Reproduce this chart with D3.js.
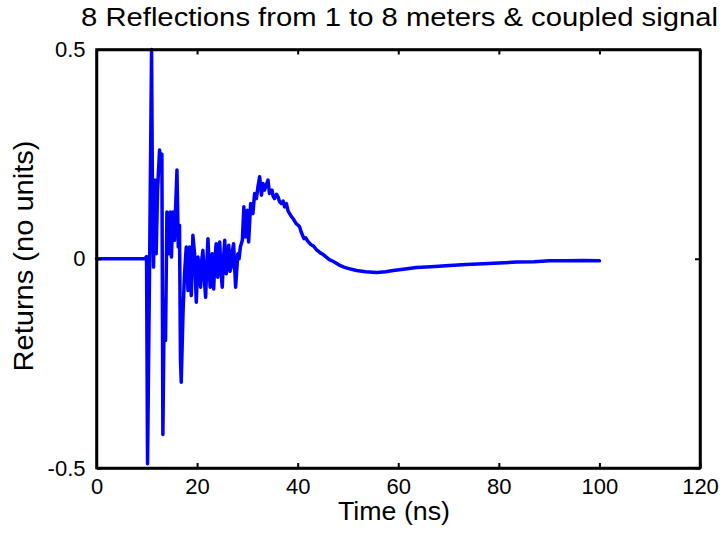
<!DOCTYPE html>
<html>
<head>
<meta charset="utf-8">
<script src="https://cdn.jsdelivr.net/npm/d3@7"></script>
<style>
  html, body { margin: 0; padding: 0; background: #fff; }
  svg { display: block; font-family: "Liberation Sans", Arial, sans-serif; }
</style>
</head>
<body>
<svg id="chart" width="724" height="538"></svg>
<script>
// ---- data ----
const titleText = "8 Reflections from 1 to 8 meters & coupled signal";
const xLabelText = "Time (ns)";
const yLabelText = "Returns (no units)";
const xTicks = [0, 20, 40, 60, 80, 100, 120];
const yTicks = [-0.5, 0, 0.5];
const yTickLabels = ["-0.5", "0", "0.5"];

const timeNs = [
  0, 2, 4, 6, 8, 9.6, 9.95, 10.15, 10.55, 10.95, 11.15, 11.34, 11.6, 11.87, 12.14, 12.54, 12.8, 13.0,
  13.2, 13.47, 13.73, 14.0, 14.4, 14.66, 14.9, 15.2, 15.5, 16.0, 16.26, 16.5, 16.7, 16.85,
  17.2, 17.5, 17.85, 18.2, 18.5, 18.85, 19.17, 19.5, 19.84, 20.17, 20.45, 20.7, 20.95, 21.16, 21.45, 21.7, 21.95, 22.16,
  22.4, 22.6, 22.8, 23.0, 23.3, 23.55, 23.8, 24.1, 24.3, 24.5, 24.75, 25.0, 25.25, 25.5, 25.8, 26.05, 26.3, 26.55, 26.8, 27.05, 27.26, 27.66, 28.1, 28.35, 28.6,
  29.0, 29.3, 29.6, 30.0, 30.25, 30.65, 31.1, 31.44, 31.8, 32.1, 32.44, 32.8, 33.1, 33.4, 33.8, 34.1,
  34.4, 34.9, 35.1, 35.4, 35.8, 36.1, 36.4, 36.75, 37.1, 37.4, 37.75, 38.1, 38.4, 38.8, 39.1, 39.4, 39.7, 40.1, 40.4, 40.7, 41.25, 41.6, 42.0,
  42.6, 43.2, 43.7, 44.1, 44.5, 45.1, 45.7, 46.3, 47.0, 47.6, 48.4, 49.2, 50.0, 51.7, 53.5, 55.7, 57.5, 59.0, 61.0, 63.6,
  66.5, 70.2, 73.5, 76.9, 80.0, 83.5, 87.0, 90.1, 93.5, 96.8, 100
];
const returns = [
  0, 0, 0, 0, 0, 0, 0.005, -0.49, -0.02, 0.5, 0.1, -0.02, 0.188, 0.012, 0.164, 0.26, 0.22, 0.25,
  -0.42, -0.1, -0.195, 0.112, 0.012, 0.112, 0.004, 0.112, 0.044, 0.212, 0.028, 0.08, -0.243, -0.295,
  -0.131, -0.036, 0.028, -0.076, 0.028, -0.088, 0.056, 0.012, -0.104, 0.004, -0.03, -0.068, 0.0, 0.02, -0.05, -0.092, -0.01, 0.048,
  -0.02, -0.068, -0.01, 0.012, -0.072, 0.0, 0.036, -0.044, 0.01, 0.04, -0.03, -0.068, 0.0, 0.044, -0.036, 0.01, 0.032, -0.03, -0.02, 0.02, 0.036, -0.068, 0.012, 0.0, 0.028,
  0.044, 0.124, 0.052, 0.116, 0.04, 0.132, 0.108, 0.156, 0.144, 0.172, 0.196, 0.152, 0.18, 0.164, 0.178, 0.188,
  0.156, 0.164, 0.15, 0.144, 0.154, 0.148, 0.136, 0.132, 0.138, 0.124, 0.132, 0.114, 0.108, 0.1, 0.096, 0.09, 0.084, 0.08, 0.076, 0.064, 0.048, 0.05, 0.042,
  0.034, 0.03, 0.022, 0.018, 0.014, 0.01, 0.004, -0.002, -0.006, -0.01, -0.016, -0.02, -0.023, -0.028, -0.031, -0.033, -0.031, -0.028, -0.025, -0.021,
  -0.019, -0.016, -0.014, -0.012, -0.01, -0.008, -0.007, -0.005, -0.005, -0.004, -0.005
];

// ---- layout ----
const svg = d3.select("#chart");
const plot = { left: 96.5, right: 700, top: 49.5, bottom: 468 };
const x = d3.scaleLinear().domain([0, 120]).range([plot.left, plot.right]);
const y = d3.scaleLinear().domain([-0.5, 0.5]).range([plot.bottom, plot.top]);
const tickLen = 5;
const font = '"Liberation Sans", Arial, sans-serif';

// trace
const pts = timeNs.map((t, i) => [t, returns[i]]);
const line = d3.line().x(d => x(d[0])).y(d => y(d[1]));
svg.append("path")
  .datum(pts)
  .attr("d", line)
  .attr("fill", "none")
  .attr("stroke", "#0000ff")
  .attr("stroke-width", 3.5)
  .attr("stroke-linejoin", "round")
  .attr("stroke-linecap", "round");

// axes (box with inward ticks on all sides)
const axisG = svg.append("g");
const xBottom = d3.axisBottom(x).tickValues(xTicks).tickSizeInner(-tickLen).tickSizeOuter(0).tickPadding(10).tickFormat(d3.format("d"));
const xTop = d3.axisTop(x).tickValues(xTicks).tickSizeInner(-tickLen).tickSizeOuter(0).tickFormat("");
const yLeft = d3.axisLeft(y).tickValues(yTicks).tickSizeInner(-tickLen).tickSizeOuter(0).tickPadding(11)
  .tickFormat((d, i) => yTickLabels[i]);
const yRight = d3.axisRight(y).tickValues(yTicks).tickSizeInner(-tickLen).tickSizeOuter(0).tickFormat("");

const gb = axisG.append("g").attr("transform", `translate(0,${plot.bottom})`).call(xBottom);
const gt = axisG.append("g").attr("transform", `translate(0,${plot.top})`).call(xTop);
const gl = axisG.append("g").attr("transform", `translate(${plot.left},0)`).call(yLeft);
const gr = axisG.append("g").attr("transform", `translate(${plot.right},0)`).call(yRight);

[gb, gt, gl, gr].forEach(g => {
  g.select(".domain").attr("stroke", "#000").attr("stroke-width", 2.5);
  g.selectAll(".tick line").attr("stroke", "#000").attr("stroke-width", 2);
  g.selectAll(".tick text").attr("font-family", font).attr("font-size", 22).attr("fill", "#000");
});
gb.selectAll(".tick text").attr("dy", "0.71em").attr("y", 10);
gl.selectAll(".tick text").attr("dy", "0.32em");
// box
axisG.append("rect")
  .attr("x", plot.left).attr("y", plot.top)
  .attr("width", plot.right - plot.left).attr("height", plot.bottom - plot.top)
  .attr("fill", "none").attr("stroke", "#000").attr("stroke-width", 2.5);

// title
svg.append("text")
  .attr("x", 399.5).attr("y", 26)
  .attr("text-anchor", "middle")
  .attr("font-family", font).attr("font-size", 26)
  .attr("textLength", 637).attr("lengthAdjust", "spacingAndGlyphs")
  .text(titleText);

// x label
svg.append("text")
  .attr("x", 394).attr("y", 520)
  .attr("text-anchor", "middle")
  .attr("font-family", font).attr("font-size", 25)
  .attr("textLength", 112).attr("lengthAdjust", "spacingAndGlyphs")
  .text(xLabelText);

// y label
svg.append("text")
  .attr("transform", "translate(33,256) rotate(-90)")
  .attr("text-anchor", "middle")
  .attr("font-family", font).attr("font-size", 27)
  .attr("textLength", 231).attr("lengthAdjust", "spacingAndGlyphs")
  .text(yLabelText);
</script>
</body>
</html>
